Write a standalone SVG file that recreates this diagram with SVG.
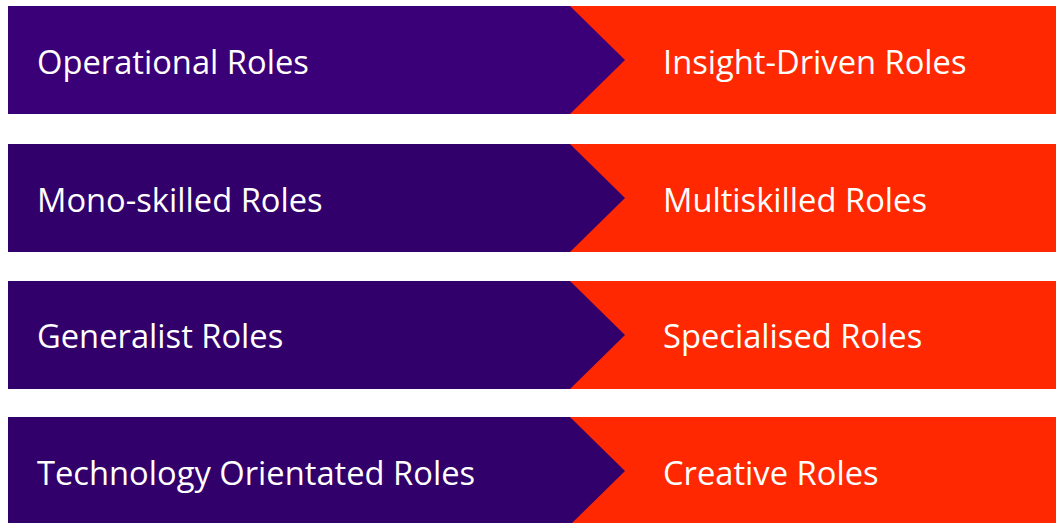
<svg xmlns="http://www.w3.org/2000/svg" width="1056" height="523" viewBox="0 0 1056 523">
  <style>
    .to { fill: #FF2800; }
    .from { fill: #32006B; }
    .from.first { fill: #3A0077; }
    .label { font-family: "Open Sans", "Liberation Sans", sans-serif; font-size: 32.7px; fill: #FFFFFF; }
  </style>
  <rect width="1056" height="523" fill="#FFFFFF"/>

  <!-- row 1 -->
  <g id="row1-to">
    <rect class="to" x="570" y="6" width="486" height="108"/>
    <text class="label" x="663" y="74">Insight-Driven Roles</text>
  </g>
  <g id="row1-from">
    <polygon class="from first" points="8,6 570,6 625,60 570,114 8,114"/>
    <text class="label" x="37" y="74">Operational Roles</text>
  </g>

  <!-- row 2 -->
  <g id="row2-to">
    <rect class="to" x="570" y="144" width="486" height="108"/>
    <text class="label" x="663" y="212">Multiskilled Roles</text>
  </g>
  <g id="row2-from">
    <polygon class="from" points="8,144 570,144 625,198 570,252 8,252"/>
    <text class="label" x="37" y="212">Mono-skilled Roles</text>
  </g>

  <!-- row 3 -->
  <g id="row3-to">
    <rect class="to" x="570" y="281" width="486" height="108"/>
    <text class="label" x="663" y="348">Specialised Roles</text>
  </g>
  <g id="row3-from">
    <polygon class="from" points="8,281 570,281 625,335 570,389 8,389"/>
    <text class="label" x="37" y="348">Generalist Roles</text>
  </g>

  <!-- row 4 -->
  <g id="row4-to">
    <rect class="to" x="570" y="417" width="486" height="108"/>
    <text class="label" x="663" y="485">Creative Roles</text>
  </g>
  <g id="row4-from">
    <polygon class="from" points="8,417 570,417 625,471 570,525 8,525"/>
    <text class="label" x="37" y="485">Technology Orientated Roles</text>
  </g>

  <g id="connectors"/>
</svg>
